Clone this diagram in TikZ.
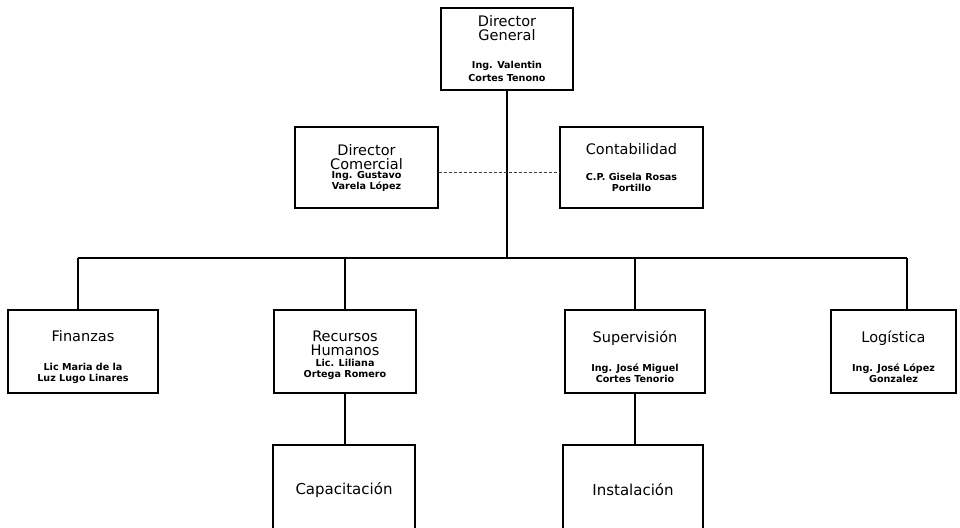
\documentclass[tikz,border=0pt]{standalone}
\usepackage{fontspec}
\setmainfont{DejaVu Sans}
\usetikzlibrary{positioning}
\usetikzlibrary{calc}

\newcommand{\puesto}{\fontsize{14.5}{13}\selectfont}
\newcommand{\persona}{\fontsize{9.6}{11}\selectfont\bfseries}

\tikzset{
    caja/.style={draw, line width=1.3pt, align=center, inner sep=0pt, font=\puesto},
    linea/.style={line width=1.3pt},
    punteado/.style={densely dashed, line width=0.6pt, black!75}
}

\begin{document}
\begin{tikzpicture}[x=1pt,y=-1pt]
    	\useasboundingbox (0,0) rectangle (960,527);
    	% direccion
    	\node[caja, minimum width=132pt, minimum height=82pt] (dg) at (507,49)
    	{Director\\[1pt]General\\[15pt]{\persona Ing. Valentin}\\{\persona Cortes Tenono}};
    	\node[caja, minimum width=143pt, minimum height=81pt] (dc) at (366.5,167.5)
    	{Director\\[1pt]Comercial\\[-4pt]{\persona Ing. Gustavo}\\[-2pt]{\persona Varela López}};
    	\node[caja, minimum width=143pt, minimum height=81pt] (cont) at (631.5,167.5)
    	{Contabilidad\\[13pt]{\persona C.P. Gisela Rosas}\\[-2pt]{\persona Portillo}};
    	% areas
    	\node[caja, minimum width=150pt, minimum height=83pt] (fin) at (83,351.5)
    	{\rule{0pt}{22pt}Finanzas\\[16pt]{\persona Lic  Maria de la}\\[-2pt]{\persona Luz Lugo Linares}};
    	\node[caja, minimum width=142pt, minimum height=83pt] (rh) at (345,351.5)
    	{\rule{0pt}{18pt}Recursos\\[1pt]Humanos\\[-2pt]{\persona Lic. Liliana}\\[-2pt]{\persona Ortega Romero}};
    	\node[caja, minimum width=140pt, minimum height=83pt] (sup) at (635,351.5)
    	{\rule{0pt}{22pt}Supervisión\\[16pt]{\persona Ing. José Miguel}\\[-2pt]{\persona Cortes Tenorio}};
    	\node[caja, minimum width=125pt, minimum height=83pt] (log) at (893.5,351.5)
    	{\rule{0pt}{22pt}Logística\\[16pt]{\persona Ing. José López}\\[-2pt]{\persona Gonzalez}};
    	\node[caja, minimum width=142pt, minimum height=90pt, font=\fontsize{15}{15}\selectfont] (cap) at (344,490) {Capacitación};
    	\node[caja, minimum width=140pt, minimum height=90pt, font=\fontsize{15}{15}\selectfont] (inst) at (633,490) {Instalación};
    	% lineas
    	\coordinate (busL) at (78,258);
    	\coordinate (busR) at (907,258);
    	\draw[linea] (dg.south) -- (dg.south |- busL);
    	\draw[linea] (busL) -- (busR);
    	\draw[linea] (busL) -- (busL |- fin.north);
    	\draw[linea] (rh.north) -- (rh.north |- busL);
    	\draw[linea] (sup.north) -- (sup.north |- busL);
    	\draw[linea] (busR) -- (busR |- log.north);
    	\draw[linea] (rh.south) -- (rh.south |- cap.north);
    	\draw[linea] (sup.south) -- (sup.south |- inst.north);
    	\draw[punteado] ($(dc.east)+(0,5)$) -- ($(cont.west)+(0,5)$);
\end{tikzpicture}
\end{document}
